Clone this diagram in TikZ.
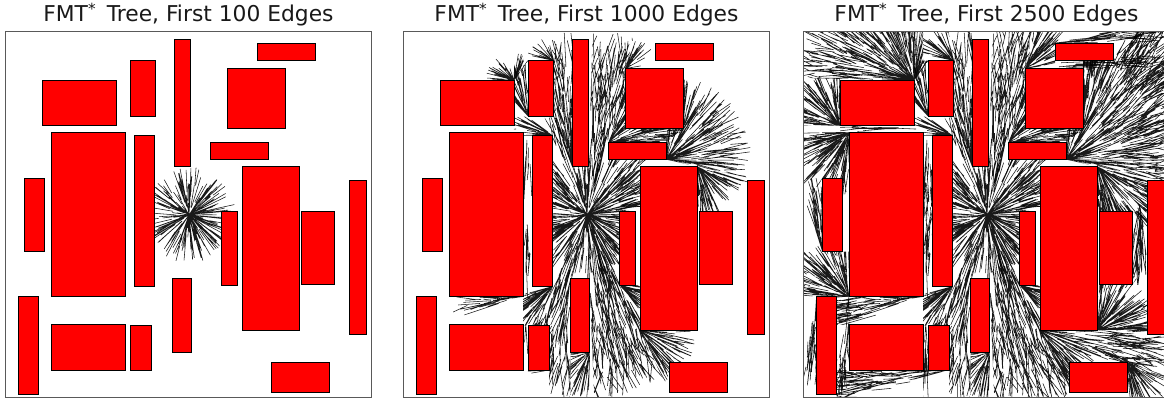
\documentclass[tikz,border=0pt]{standalone}
\usepackage{fontspec}
\setmainfont{DejaVu Sans}
\tikzset{
  hair/.style={line width=0.55pt, black, opacity=0.9},
  obst/.style={fill=red, draw=black, line width=0.8pt},
  frm/.style={draw=black!65, line width=1pt},
  ttl/.style={font=\fontsize{21.8}{25}\selectfont, text=black!90, anchor=base, inner sep=0pt},
}
\newcommand\dens{0.03}
\newcommand\CA{48}
\newcommand\CB{185}
\newcommand\hmin{14}
\newcommand\hmax{38}
\newcommand\jit{7}
\newcommand\myfan[8]{%
  \gdef\hairA{}\gdef\hairB{}\gdef\hairC{}%
  \pgfmathtruncatemacro\fanN{max(1,round(\dens*abs((#5)-(#4))/360*3.14159*(((#7)/10)^2-((#6)/10)^2)*100))}%
  \foreach \k in {1,...,\fanN}{%
    \pgfmathsetmacro\hT{(#4)+((#5)-(#4))*rnd}%
    \pgfmathsetmacro\hD{10*sqrt(((#6)/10)^2+rnd*(((#7)/10)^2-((#6)/10)^2))}%
    \pgfmathsetmacro\hE{max(\hD-\hmin-(\hmax-\hmin)*rnd,0)}%
    \pgfmathsetmacro\hU{\hT+(rnd-0.5)*\jit}%
    \pgfmathsetmacro\xa{#1+\hD*cos(\hT)}%
    \pgfmathsetmacro\ya{#2+\hD*sin(\hT)}%
    \pgfmathsetmacro\xb{#1+\hE*cos(\hU)}%
    \pgfmathsetmacro\yb{#2+\hE*sin(\hU)}%
    \pgfmathsetmacro\hC{#3+\hD}%
    \xdef\hairC{\hairC(\xa,\ya)--(\xb,\yb)}%
    \ifdim\hC pt<\CB pt\xdef\hairB{\hairB(\xa,\ya)--(\xb,\yb)}\fi
    \ifdim\hC pt<\CA pt\xdef\hairA{\hairA(\xa,\ya)--(\xb,\yb)}\fi
  }%
  \begin{scope}
    \clip (5.5,31.5) rectangle (371.5,397.5); \clip #8;
    \edef\tmpdraw{\noexpand\draw[hair] \hairA;}\tmpdraw
  \end{scope}
  \begin{scope}[shift={(398,0)}]
    \clip (5.5,31.5) rectangle (371.5,397.5); \clip #8;
    \edef\tmpdraw{\noexpand\draw[hair] \hairB;}\tmpdraw
  \end{scope}
  \begin{scope}[shift={(798,0)}]
    \clip (5.5,31.5) rectangle (371.5,397.5); \clip #8;
    \edef\tmpdraw{\noexpand\draw[hair] \hairC;}\tmpdraw
  \end{scope}
}
\newcommand\rootfan[4]{\myfan{189}{215}{0}{#1}{#2}{#3}{#4}{(154.5,135.5)--(146.1,116.5)--(155.5,116.5)--(155.5,106.7)--(174,166.5)--(190.5,166.5)--(194.7,31.5)--(237.2,31.5)--(227.5,68.5)--(227.5,85.2)--(210.5,142.5)--(210.5,159.5)--(249.6,159.5)--(242,166.5)--(242,209.3)--(221.5,211.5)--(221.5,285)--(273.7,397.5)--(196.2,397.5)--(191.5,278.5)--(172.5,278.5)--(151,360.8)--(151,325.5)--(135.7,325.5)--(154.5,286.5)--cycle}}
\newcommand\panelrects{%
  \draw[obst] (42,80.5) rectangle (116,125.5);
  \draw[obst] (130.5,60.5) rectangle (155.5,116.5);
  \draw[obst] (174,39.5) rectangle (190.5,166.5);
  \draw[obst] (257,43) rectangle (315,60);
  \draw[obst] (227.5,68.5) rectangle (285,128.5);
  \draw[obst] (210.5,142.5) rectangle (268,159.5);
  \draw[obst] (51,132.5) rectangle (125,296.5);
  \draw[obst] (134,135.5) rectangle (154.5,286.5);
  \draw[obst] (24.5,178) rectangle (44.5,251.5);
  \draw[obst] (242,166.5) rectangle (299.5,330);
  \draw[obst] (221.5,211.5) rectangle (237.5,285);
  \draw[obst] (301.5,211.5) rectangle (334.5,284.5);
  \draw[obst] (349,180.5) rectangle (366,334.5);
  \draw[obst] (172.5,278.5) rectangle (191.5,352.5);
  \draw[obst] (18.5,296.5) rectangle (38.5,394);
  \draw[obst] (51,324.5) rectangle (125,370);
  \draw[obst] (130.5,325.5) rectangle (151,370);
  \draw[obst] (271.5,362) rectangle (329,392.5);
  \draw[frm] (5.5,31.5) rectangle (371.5,397.5);
}
\begin{document}
\begin{tikzpicture}[x=1pt,y=-1pt]
\useasboundingbox (0,0) rectangle (1164,400);
\clip (0,0) rectangle (1164,400);
\fill[white] (0,0) rectangle (1164,400);
\pgfmathsetseed{4242}
% root fans
\rootfan{0}{360}{0}{66}
\rootfan{-114}{-107}{66}{118}
\rootfan{-89}{-73}{66}{196}
\rootfan{-70}{-5}{66}{92}
\rootfan{64}{89}{66}{200}
\rootfan{103}{117}{66}{160}
% corner fans
\myfan{174}{166.5}{50.8}{-111}{-89}{0}{140}{(174,166.5)--(155.5,116.5)--(155.5,60.5)--(150.4,31.5)--(174,31.5)--cycle}
\myfan{155.5}{60.5}{158.4}{190}{272}{0}{45}{(155.5,60.5)--(150.4,31.5)--(125,31.5)--(125,60.5)--cycle}
\myfan{130.5}{116.5}{117.3}{225}{272}{0}{60}{(116,120)--(130.5,120)--(130.5,55)--(116,55)--cycle}
\myfan{154.5}{135.5}{86.7}{180}{220}{0}{45}{(154.5,135.5)--(146.1,116.5)--(116,116.5)--(116,135.5)--cycle}
\myfan{118}{129}{165}{176}{184}{0}{80}{(125,125.5)--(42,125.5)--(42,132.5)--(125,132.5)--cycle}
\myfan{42}{125.5}{234}{180}{270}{0}{60}{(42,125.5)--(5.5,125.5)--(5.5,78)--(42,78)--cycle}
\myfan{51}{132.5}{234}{90}{180}{0}{70}{(51,125.5)--(5.5,125.5)--(5.5,210.6)--(24.5,178)--(44.5,178)--(44.5,250)--(51,250)--cycle}
\myfan{125}{296.5}{110.5}{160}{181}{0}{125}{(125,296.5)--(38.5,296.5)--(38.5,324.5)--(125,324.5)--cycle}
\myfan{154.5}{286.5}{79.4}{95}{165}{0}{55}{(154.5,286.5)--(135.7,325.5)--(125,325.5)--(125,296.5)--(134,286.5)--cycle}
\myfan{51}{296.5}{184.5}{180}{270}{0}{70}{(51,296.5)--(5.5,296.5)--(5.5,219)--(24.5,251.5)--(51,251.5)--cycle}
\myfan{24.5}{251.5}{237}{250}{272}{0}{75}{(5.5,178)--(24.5,178)--(24.5,251.5)--(5.5,251.5)--cycle}
\myfan{51}{296.5}{184.5}{88}{100}{0}{101}{(38.5,296.5)--(51,296.5)--(51,397.5)--(38.5,397.5)--cycle}
\myfan{18.5}{296.5}{217}{90}{100}{0}{102}{(5.5,296.5)--(18.5,296.5)--(18.5,397.5)--(5.5,397.5)--cycle}
\myfan{151}{370}{160}{165}{181}{0}{150}{(151,370)--(38.5,370)--(38.5,397.5)--(151,397.5)--cycle}
\myfan{127.75}{324.5}{140}{86}{94}{0}{73}{(125,324.5)--(130.5,324.5)--(130.5,397.5)--(125,397.5)--cycle}
\myfan{129.5}{132.5}{118}{86}{94}{0}{90}{(125,132.5)--(134,132.5)--(134,296.5)--(125,296.5)--cycle}
\myfan{129.5}{296.5}{112}{-94}{-86}{0}{90}{(125,132.5)--(134,132.5)--(134,296.5)--(125,296.5)--cycle}
\myfan{172.5}{278.5}{65.6}{90}{116}{0}{125}{(172.5,278.5)--(151,360.8)--(151,397.5)--(172.5,397.5)--cycle}
\myfan{191.5}{352.5}{137.5}{90}{180}{0}{50}{(172.5,352.5)--(191.5,352.5)--(196.2,397.5)--(172.5,397.5)--cycle}
\myfan{221.5}{285}{77.2}{0}{66}{0}{50}{(221.5,285)--(242,285)--(242,330)--cycle}
\myfan{242}{330}{126.6}{0}{22}{0}{135}{(242,330)--(299.5,330)--(349,334.5)--(371.5,334.5)--(371.5,377.6)--(329,362)--(271.5,362)--(271.5,397.5)--(273.7,397.5)--cycle}
\myfan{242}{330}{126.6}{22}{90}{0}{76}{(242,330)--(299.5,330)--(349,334.5)--(371.5,334.5)--(371.5,377.6)--(329,362)--(271.5,362)--(271.5,397.5)--(273.7,397.5)--cycle}
\myfan{299.5}{330}{184}{-90}{0}{0}{70}{(299.5,330)--(301.5,284.5)--(334.5,284.5)--(349,260)--(349,334.5)--cycle}
\myfan{299.5}{166.5}{131}{10}{92}{0}{90}{(299.5,166.5)--(349,180.5)--(349,230)--(334.5,211.5)--(299.5,211.5)--cycle}
\myfan{341.75}{205}{188}{78}{102}{0}{85}{(334.5,205)--(349,205)--(349,284.5)--(334.5,284.5)--cycle}
\myfan{268}{159.5}{99}{-91}{15}{0}{175}{(268,159.5)--(268,128.5)--(285,128.5)--(338.4,31.5)--(371.5,31.5)--(371.5,182.4)--(299.5,166.5)--cycle}
\myfan{210.5}{142.5}{75.6}{-75}{2}{0}{80}{(210.5,142.5)--(227.5,85.2)--(227.5,128.5)--(285,128.5)--(268,142.5)--cycle}
\myfan{285}{128.5}{135}{-92}{-60}{0}{100}{(285,128.5)--(285,60)--(315,60)--(327.5,31.5)--(338.4,31.5)--cycle}
\myfan{227.5}{68.5}{151.5}{-76}{-5}{0}{58}{(227.5,68.5)--(237.2,31.5)--(270.4,31.5)--(257,43)--(257,68.5)--cycle}
\myfan{227.5}{68.5}{151.5}{-6}{0}{30}{145}{(257,60)--(371.5,54.6)--(371.5,68.5)--(257,68.5)--cycle}
\myfan{257}{43}{190}{-12}{0}{0}{115}{(257,31.5)--(371.5,31.5)--(371.5,43)--(257,43)--cycle}
\myfan{116}{80.5}{156}{180}{306}{0}{125}{(116,80.5)--(5.5,78)--(5.5,31.5)--(125,31.5)--(125,60.5)--(130.5,60.5)--cycle}
\myfan{329}{362}{219}{0}{90}{0}{50}{(329,362)--(371.5,377.6)--(371.5,397.5)--(329,397.5)--cycle}
% obstacles and frames
\begin{scope}\panelrects\end{scope}
\begin{scope}[shift={(398,0)}]\panelrects\end{scope}
\begin{scope}[shift={(798,0)}]\panelrects\end{scope}
% titles
\node[ttl] (t1) at (188.5,21.7) {FMT\textsuperscript{*}\, Tree, First 100 Edges};
\node[ttl] (t2) at (586.5,21.7) {FMT\textsuperscript{*}\, Tree, First 1000 Edges};
\node[ttl] (t3) at (986.5,21.7) {FMT\textsuperscript{*}\, Tree, First 2500 Edges};
\end{tikzpicture}
\end{document}
